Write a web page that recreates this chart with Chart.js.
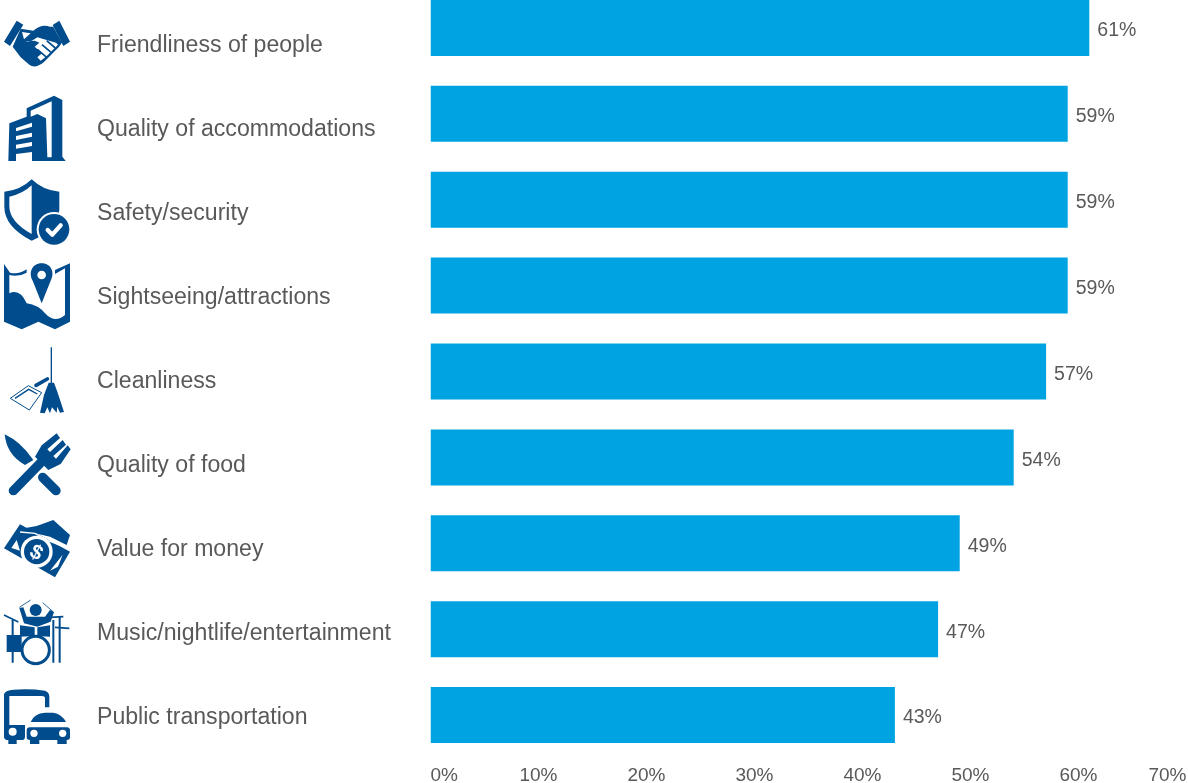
<!DOCTYPE html>
<html>
<head>
<meta charset="utf-8">
<title>Ratings</title>
<script src="https://cdn.jsdelivr.net/npm/chart.js@4/dist/chart.umd.min.js"></script>
<style>
  html, body { margin: 0; padding: 0; background: #fff; overflow: hidden; }
  #wrap { position: relative; width: 1188px; height: 783px; overflow: hidden; }
  #chart { position: absolute; left: 0; top: -15px; }
  #icons { position: absolute; left: 0; top: 0; }
  #icons .d { fill: #004c8c; }
  #icons .w { fill: #fff; }
  #icons .s { fill: none; stroke: #004c8c; }
  #icons .l { fill: none; stroke: #fff; }
</style>
</head>
<body>
<div id="wrap">
  <canvas id="chart" width="1188" height="798"></canvas>
  <svg id="icons" width="200" height="783" viewBox="0 0 600 2349">
    <!-- handshake -->
    <g>
      <path class="d" d="M50,62 L70,74 L30,138 L12,125 Z M178,62 L210,125 L190,138 L158,75 Z"/>
      <path class="d" d="M62,86 L100,92 Q125,70 150,80 L160,80 L186,128 L176,142 L132,186 Q105,208 88,194 L62,172 L38,140 Z"/>
      <path class="w" d="M66,96 L92,100 L72,118 Z"/>
      <path class="w" d="M76,124 Q92,128 112,112 L168,128 L174,134 L138,170 L122,182 L112,172 L126,160 L104,140 L118,128 L104,122 Z"/>
      <path class="s" stroke-width="5" d="M112,148 L140,172 M126,134 L154,158 M140,122 L166,144"/>
    </g>
    <!-- buildings -->
    <g>
      <path class="d" d="M80,325 L162,287 L187,300 L187,470 L197,483 L25,483 L28,370 L80,350 Z"/>
      <path class="w" d="M92,332 L155,304 L155,472 L142,472 L138,355 L112,342 L92,350 Z"/>
      <path class="w" d="M48,384 L96,368 L96,380 L48,394 Z M48,408 L96,398 L96,410 L48,420 Z M48,434 L96,426 L96,438 L48,446 Z M48,462 L96,456 L96,483 L48,483 Z"/>
    </g>
    <!-- shield -->
    <g>
      <path class="d" d="M13,575 Q60,572 95,538 Q130,572 178,575 L178,630 Q170,690 95,722 Q13,680 13,620 Z"/>
      <path class="w" d="M28,590 Q68,582 95,556 L95,702 Q28,665 28,618 Z"/>
      <circle class="w" cx="162" cy="688" r="52"/>
      <circle class="d" cx="162" cy="688" r="46"/>
      <path class="l" stroke-width="13" stroke-linecap="round" stroke-linejoin="round" d="M143,690 L157,704 L182,676"/>
    </g>
    <!-- map with pin -->
    <g transform="translate(0,780)">
      <path class="d" d="M12,12 L30,38 Q55,45 80,28 L80,38 Q55,52 28,45 L28,100 Q60,85 80,130 Q115,135 135,160 Q165,192 195,165 L195,25 L165,42 L165,30 L210,10 L210,185 L165,208 L115,185 L65,208 L12,185 Z"/>
      <path class="d" fill-rule="evenodd" d="M125,10 C95,10 85,40 98,62 L125,130 L152,62 C165,40 155,10 125,10 Z M125,32 A13,13 0 1 0 125.01,58 A13,13 0 1 0 125,32 Z"/>
    </g>
    <!-- broom and dustpan -->
    <g transform="translate(0,780)">
      <path class="s" stroke-width="4" d="M154,262 L154,372"/>
      <path class="d" d="M146,368 L162,368 L172,395 L192,456 L180,458 L172,440 L170,458 L156,442 L150,460 L142,442 L134,460 L120,458 L132,405 Z"/>
      <path class="w" stroke="#004c8c" stroke-width="3" d="M31,415 L85,377 L125,398 L88,450 Z"/>
      <path class="s" stroke-width="4" d="M45,415 L86,388 L112,402"/>
      <path class="s" stroke-width="11" stroke-linecap="round" d="M108,376 L142,357"/>
    </g>
    <!-- knife and fork -->
    <g transform="translate(0,780)">
      <path class="d" d="M14,523 Q62,545 100,600 L75,615 Q20,585 14,523 Z"/>
      <path class="s" stroke-width="28" stroke-linecap="round" d="M128,652 L168,692"/>
      <path class="s" stroke-width="28" stroke-linecap="round" d="M40,692 L130,600"/>
      <path class="d" d="M105,590 L125,556 L170,520 L180,534 L142,568 L150,576 L188,540 L198,554 L160,588 L168,596 L203,556 L212,568 L182,612 L145,630 Z"/>
    </g>
    <!-- bank note and hand -->
    <g transform="translate(0,1560)">
      <path class="d" d="M12,85 L60,13 L210,95 L165,172 Z"/>
      <path class="d" d="M55,28 L110,18 L160,0 L210,45 L200,75 L150,50 Z"/>
      <path class="l" stroke-width="4" d="M60,36 L105,40 L145,62 L205,86"/>
      <circle class="w" cx="110" cy="95" r="48"/>
      <circle class="d" cx="110" cy="95" r="38"/>
      <text x="110" y="117" font-family="Liberation Sans" font-size="62" font-weight="700" fill="#fff" text-anchor="middle" transform="rotate(28 110 95)">$</text>
      <path class="w" d="M34,84 L50,60 L60,92 Z M150,152 L188,104 L174,140 Z"/>
    </g>
    <!-- drummer -->
    <g transform="translate(0,1560)">
      <circle class="d" cx="107" cy="270" r="18"/>
      <path class="d" d="M58,264 L70,262 L80,290 L135,290 L150,270 L162,276 L152,305 L112,320 L72,310 Z"/>
      <path class="s" stroke-width="2.5" d="M58,262 L92,240 M128,248 L160,276"/>
      <path class="s" stroke-width="5" d="M12,285 L55,306 M150,292 L190,290 M165,322 L208,325"/>
      <path class="d" d="M60,316 L104,322 L104,348 L60,350 Z M112,322 L150,316 L150,350 L112,348 Z M20,345 L65,345 L65,396 L20,396 Z"/>
      <circle fill="#fff" stroke="#004c8c" stroke-width="9" cx="107" cy="390" r="41"/>
      <path class="s" stroke-width="6" d="M38,300 L38,428 M160,300 L160,428 M179,290 L179,428"/>
    </g>
    <!-- bus and car -->
    <g transform="translate(0,1560)">
      <path class="d" d="M12,522 Q18,510 40,509 Q90,505 135,512 Q148,516 148,530 L148,562 L135,562 L135,535 Q135,528 125,528 L28,528 L28,615 L75,615 L75,650 Q75,660 65,660 L50,660 L50,672 L25,672 L25,660 Q12,660 12,650 Z"/>
      <circle class="w" cx="38" cy="635" r="12"/>
      <path class="d" d="M92,606 Q102,580 135,578 L160,578 Q185,582 198,606 Z"/>
      <path class="d" d="M90,622 L200,622 Q210,622 210,632 L210,652 Q210,660 200,660 L200,672 L172,672 L172,660 L118,660 L118,672 L90,672 L90,660 Q80,660 80,652 L80,632 Q80,622 90,622 Z"/>
      <circle class="w" cx="102" cy="640" r="11"/>
      <circle class="w" cx="188" cy="640" r="11"/>
    </g>
  </svg>
</div>
<script>
const categories = [
  'Friendliness of people',
  'Quality of accommodations',
  'Safety/security',
  'Sightseeing/attractions',
  'Cleanliness',
  'Quality of food',
  'Value for money',
  'Music/nightlife/entertainment',
  'Public transportation'
];
const shares = [61, 59, 59, 59, 57, 54, 49, 47, 43];
const tickValues = [0, 10, 20, 30, 40, 50, 60, 70];

const textColor = '#595959';

// Category names run on their own spacing, next to the icons
const categoryNames = {
  id: 'categoryNames',
  afterDraw(chart) {
    const ctx = chart.ctx;
    ctx.save();
    ctx.font = '23.1px "Liberation Sans"';
    ctx.fillStyle = textColor;
    ctx.textAlign = 'left';
    ctx.textBaseline = 'middle';
    categories.forEach((name, i) => {
      ctx.fillText(name, 97, 61 + i * 84);
    });
    ctx.restore();
  }
};

// Percentage printed just past the end of each bar
const barValues = {
  id: 'barValues',
  afterDatasetsDraw(chart) {
    const ctx = chart.ctx;
    ctx.save();
    ctx.font = '19.5px "Liberation Sans"';
    ctx.fillStyle = textColor;
    ctx.textAlign = 'left';
    ctx.textBaseline = 'middle';
    chart.getDatasetMeta(0).data.forEach((bar, i) => {
      ctx.fillText(shares[i] + '%', bar.x + 8, bar.y + 3);
    });
    ctx.restore();
  }
};

new Chart(document.getElementById('chart'), {
  type: 'bar',
  data: {
    labels: categories,
    datasets: [{
      data: shares,
      backgroundColor: '#00a3e2',
      barPercentage: 0.652,
      categoryPercentage: 1
    }]
  },
  options: {
    indexAxis: 'y',
    responsive: false,
    animation: false,
    layout: { padding: { left: 430.5, right: 1.5, top: 0, bottom: 0 } },
    plugins: { legend: { display: false }, tooltip: { enabled: false } },
    scales: {
      y: { display: false },
      x: {
        min: 0,
        max: 70,
        afterBuildTicks: (axis) => { axis.ticks = tickValues.map(value => ({ value })); },
        // first and last labels sit inside the plot, so no side padding is needed
        afterFit: (axis) => { axis.height = 25; axis.paddingLeft = 0; axis.paddingRight = 0; },
        grid: { display: false, drawTicks: false },
        border: { display: false },
        ticks: {
          align: 'inner',
          padding: 6,
          maxRotation: 0,
          autoSkip: false,
          color: textColor,
          font: { family: '"Liberation Sans"', size: 19 },
          callback: (value) => value + '%'
        }
      }
    }
  },
  plugins: [barValues, categoryNames]
});
</script>
</body>
</html>
